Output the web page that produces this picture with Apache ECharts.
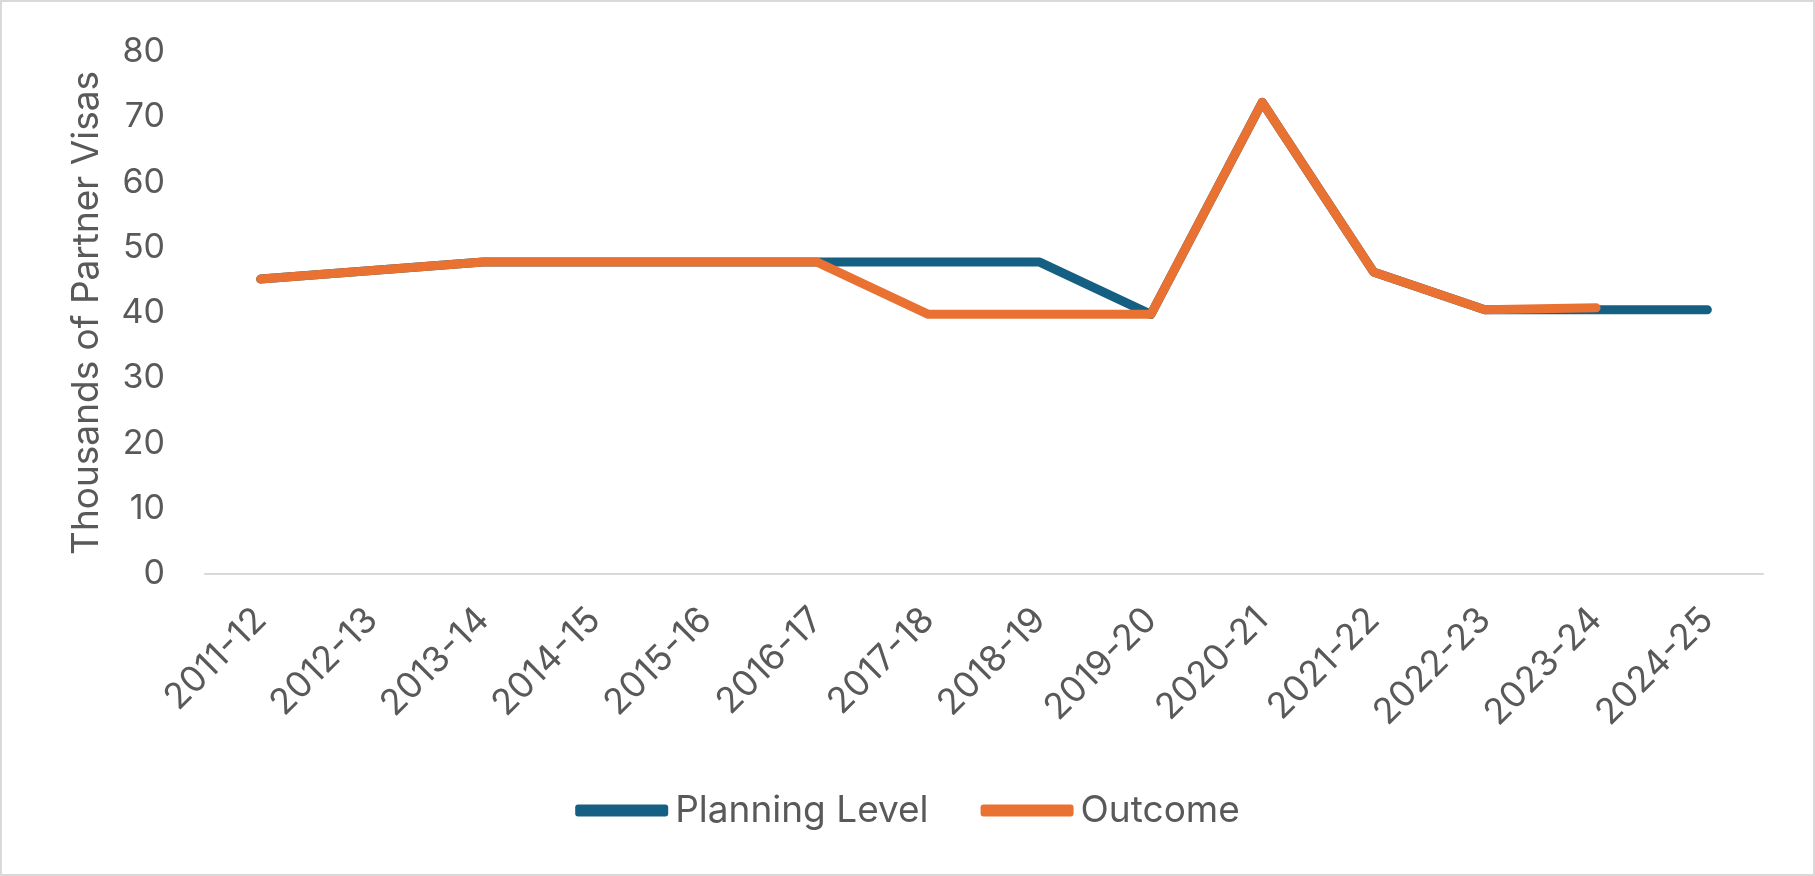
<!DOCTYPE html>
<html>
<head>
<meta charset="utf-8">
<script src="https://cdn.jsdelivr.net/npm/echarts@6/dist/echarts.min.js"></script>
<style>
  html, body { margin: 0; padding: 0; background: #fff; }
  #chart { width: 1815px; height: 876px; box-sizing: border-box; border: 2px solid #d9d9d9; }
</style>
</head>
<body>
<div id="chart"></div>
<script>
// financial years on the x axis
var years = ['2011-12', '2012-13', '2013-14', '2014-15', '2015-16', '2016-17', '2017-18',
             '2018-19', '2019-20', '2020-21', '2021-22', '2022-23', '2023-24', '2024-25'];
// thousands of partner visas
var planningLevel = [45.2, 46.5, 47.8, 47.8, 47.8, 47.8, 47.8, 47.8, 39.8, 72.3, 46.3, 40.5, 40.5, 40.5];
var outcome = [45.2, 46.5, 47.8, 47.8, 47.8, 47.8, 39.8, 39.8, 39.8, 72.3, 46.3, 40.5, 40.8, null];
var yTicks = [0, 80, 10];  // min, max, interval

var txt = '#595959';
var fnt = 'Inter';

var chart = echarts.init(document.getElementById('chart'));
var option = {
    animation: false,
    grid: { left: 203, right: 50, top: 50, bottom: 300, containLabel: false },
    legend: {
        bottom: 40,
        left: 'center',
        itemWidth: 93,
        itemHeight: 12,
        itemGap: 52,
        textStyle: { color: txt, fontSize: 37, fontFamily: fnt, padding: [0, 0, 0, 2] },
        data: [
            { name: 'Planning Level', icon: 'roundRect' },
            { name: 'Outcome', icon: 'roundRect' }
        ]
    },
    xAxis: {
        type: 'category',
        boundaryGap: true,
        data: years,
        axisLine: { show: true, lineStyle: { color: '#d9d9d9', width: 2 } },
        axisTick: { show: false },
        axisLabel: { interval: 0, rotate: 45, margin: 40, color: txt, fontSize: 36, fontFamily: fnt }
    },
    yAxis: {
        type: 'value',
        min: yTicks[0],
        max: yTicks[1],
        interval: yTicks[2],
        name: 'Thousands of Partner Visas',
        nameLocation: 'middle',
        nameGap: 100,
        nameTextStyle: { color: txt, fontSize: 37, fontFamily: fnt },
        axisLine: { show: false },
        axisTick: { show: false },
        splitLine: { show: false },
        axisLabel: { margin: 40, color: txt, fontSize: 34, fontFamily: fnt }
    },
    series: [
        {
            name: 'Planning Level',
            type: 'line',
            data: planningLevel,
            symbol: 'none',
            itemStyle: { color: '#156082' },
            lineStyle: { color: '#156082', width: 9, cap: 'round', join: 'round' }
        },
        {
            name: 'Outcome',
            type: 'line',
            data: outcome,
            symbol: 'none',
            itemStyle: { color: '#e97132' },
            lineStyle: { color: '#e97132', width: 9, cap: 'round', join: 'round' }
        }
    ]
};
chart.setOption(option);
</script>
</body>
</html>
